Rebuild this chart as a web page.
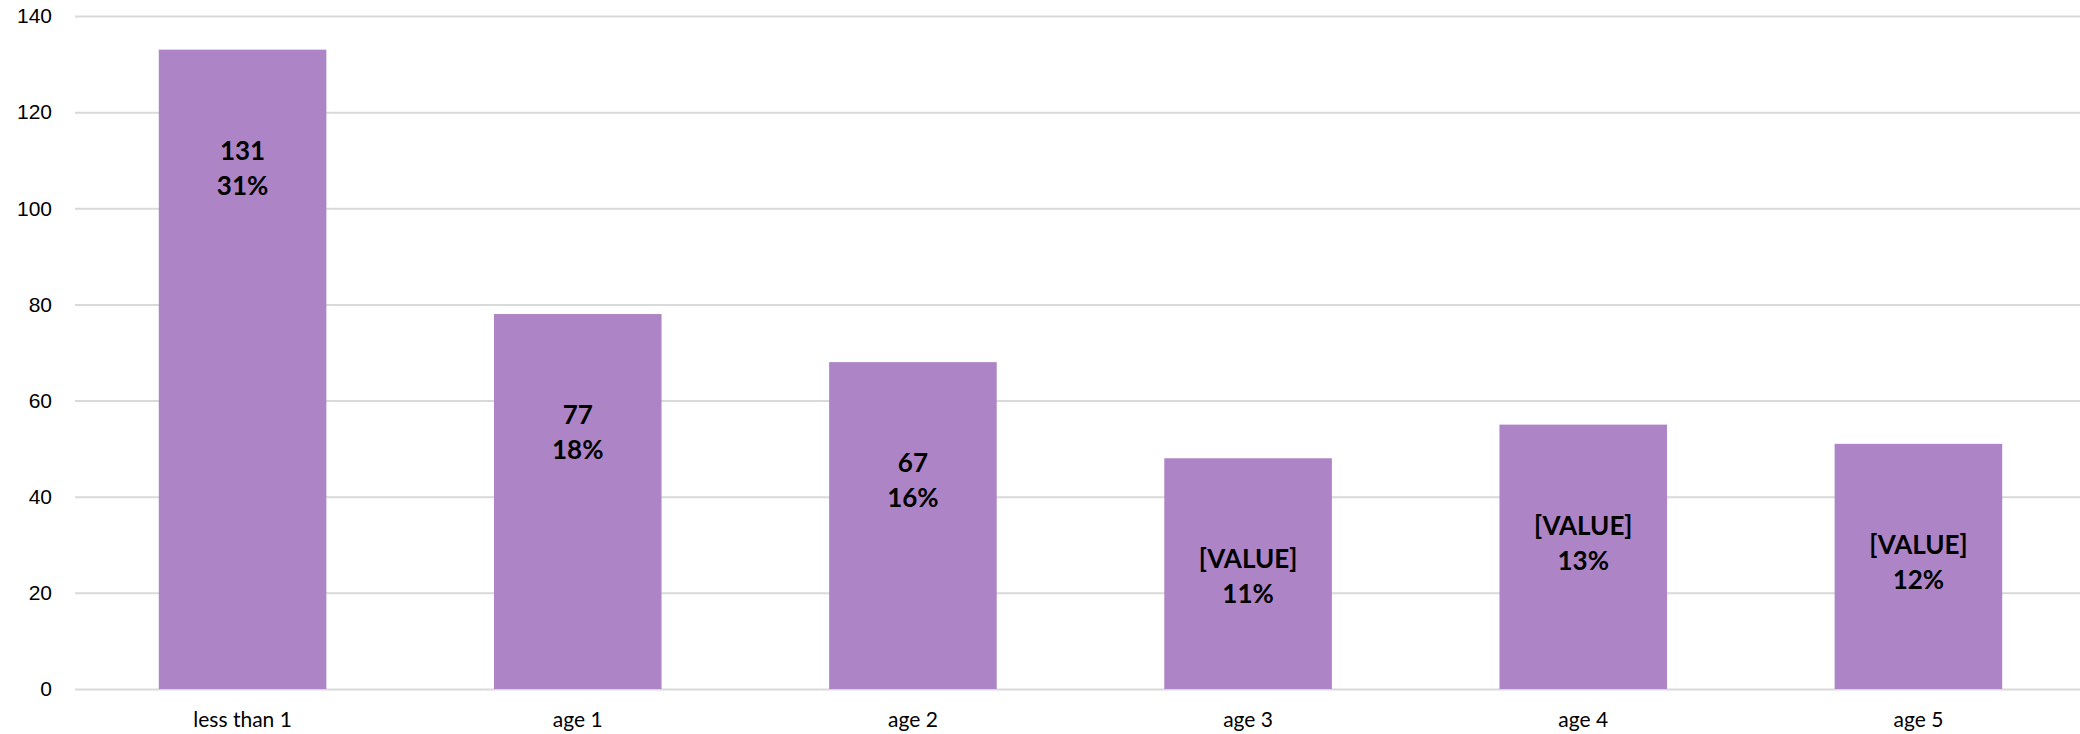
<!DOCTYPE html>
<html>
<head>
<meta charset="utf-8">
<script src="https://cdn.jsdelivr.net/npm/d3@7"></script>
<style>
  html, body { margin: 0; padding: 0; background: #fff; }
  svg { display: block; font-family: Lato, "Open Sans", sans-serif; }
  .y.axis .domain { display: none; }
  .y.axis line { stroke: #d9d9d9; stroke-width: 2; }
  .y.axis text { font-size: 21px; fill: #000; }
</style>
</head>
<body>
<div id="chart"></div>
<script>
var categories = ["less than 1", "age 1", "age 2", "age 3", "age 4", "age 5"];
var counts = [133, 78, 68, 48, 55, 51];
var countLabels = ["131", "77", "67", "[VALUE]", "[VALUE]", "[VALUE]"];
var shareLabels = ["31%", "18%", "16%", "11%", "13%", "12%"];
var yTicks = [0, 20, 40, 60, 80, 100, 120, 140];

var width = 2080;
var height = 734;
var margin = { top: 16, right: 0, bottom: 45, left: 75 };
var plotBottom = height - margin.bottom;

var svg = d3
  .select("#chart")
  .append("svg")
  .attr("width", width)
  .attr("height", height);

var data = categories.map((c, i) => ({
  cat: c,
  value: counts[i],
  countLabel: countLabels[i],
  shareLabel: shareLabels[i]
}));

var xScale = d3
  .scaleBand()
  .domain(categories)
  .range([margin.left, 2086])
  .paddingInner(0.5)
  .paddingOuter(0.25);

var yScale = d3
  .scaleLinear()
  .domain([0, 140])
  .range([plotBottom, margin.top]);

var yAxis = d3
  .axisLeft(yScale)
  .tickValues(yTicks)
  .tickSize(-(width - margin.left))
  .tickPadding(23);

svg.append("g")
  .attr("class", "y axis")
  .attr("transform", `translate(${margin.left}, 0)`)
  .call(yAxis);

var bars = svg.append("g").attr("class", "bars");

bars
  .selectAll(".bar")
  .data(data)
  .enter()
  .append("rect")
  .attr("class", "bar")
  .attr("x", d => xScale(d.cat))
  .attr("y", d => yScale(d.value))
  .attr("width", xScale.bandwidth())
  .attr("height", d => plotBottom - yScale(d.value))
  .attr("fill", "#ad84c6");

// data labels, sitting a fixed distance below each bar top
var labels = svg.append("g").attr("class", "labels")
  .attr("font-size", "26px")
  .attr("font-weight", "bold")
  .attr("text-anchor", "middle")
  .attr("fill", "#000");

labels
  .selectAll(".count")
  .data(data)
  .enter()
  .append("text")
  .attr("x", d => xScale(d.cat) + xScale.bandwidth() / 2)
  .attr("y", d => yScale(d.value) + 110)
  .text(d => d.countLabel);

labels
  .selectAll(".share")
  .data(data)
  .enter()
  .append("text")
  .attr("x", d => xScale(d.cat) + xScale.bandwidth() / 2)
  .attr("y", d => yScale(d.value) + 145)
  .text(d => d.shareLabel);

// category labels
svg.append("g")
  .attr("class", "x labels")
  .selectAll("text")
  .data(categories)
  .enter()
  .append("text")
  .attr("x", d => xScale(d) + xScale.bandwidth() / 2)
  .attr("y", plotBottom + 38)
  .attr("text-anchor", "middle")
  .attr("font-size", "21px")
  .attr("fill", "#000")
  .text(d => d);
</script>
</body>
</html>
